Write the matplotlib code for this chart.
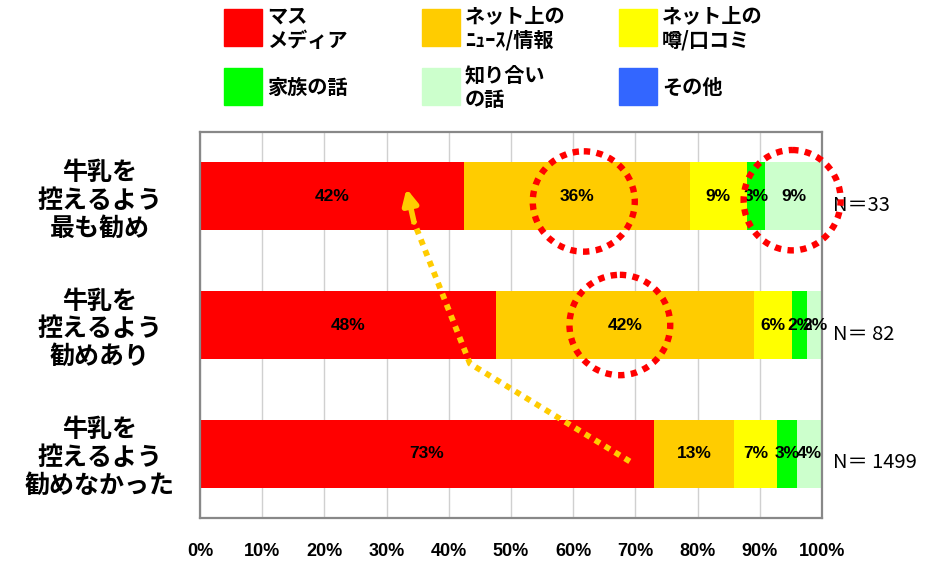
import matplotlib
matplotlib.use("Agg")
import matplotlib.pyplot as plt
from matplotlib.patches import Ellipse, Rectangle
import numpy as np

# data (percent of respondents)
groups = ["牛乳を\n控えるよう\n最も勧め", "牛乳を\n控えるよう\n勧めあり", "牛乳を\n控えるよう\n勧めなかった"]
n_labels = ["N＝33", "N＝ 82", "N＝ 1499"]
series = ["マス\nメディア", "ネット上の\nﾆｭｰｽ/情報", "ネット上の\n噂/口コミ", "家族の話", "知り合い\nの話", "その他"]
colors = ["#FF0000", "#FFCC00", "#FFFF00", "#00FF00", "#CCFFCC", "#3366FF"]
mass_media = [42.4, 47.6, 73.0]
net_news = [36.4, 41.5, 12.9]
net_rumor = [9.1, 6.1, 6.9]
family = [3.0, 2.4, 3.2]
friends = [9.1, 2.4, 4.0]
other = [0.0, 0.0, 0.0]
values = [mass_media, net_news, net_rumor, family, friends, other]

jp = ["Noto Sans CJK JP", "DejaVu Sans"]
num = ["Liberation Sans", "DejaVu Sans"]

fig = plt.figure(figsize=(9.35, 5.64), dpi=100)
ax = fig.add_axes([200 / 935, 46 / 564, 622 / 935, 386 / 564])

y = np.arange(len(groups))
left = np.zeros(len(groups))
for vals, col in zip(values, colors):
    vals = np.array(vals)
    ax.barh(y, vals, left=left, height=0.53, color=col, zorder=2)
    for yi, l, v in zip(y, left, vals):
        if v > 0:
            ax.text(l + v / 2, yi, f"{v:.0f}%", ha="center", va="center",
                    fontsize=12.5, fontweight="bold", family=num, zorder=3)
    left += vals

ax.set_xlim(0, 100)
ax.set_ylim(2.5, -0.5)
ax.set_xticks(np.arange(0, 101, 10))
ax.set_xticklabels([f"{t}%" for t in range(0, 101, 10)], fontsize=13,
                   fontweight="bold", family=num)
ax.set_yticks(y)
ax.set_yticklabels(groups, fontsize=18, fontweight="bold", family=jp, linespacing=1.2)
for lab in ax.get_yticklabels():
    lab.set_ha("center")
ax.tick_params(axis="y", length=0, pad=72)
ax.tick_params(axis="x", length=0, pad=18)
ax.grid(axis="x", color="#d0d0d0", lw=1, zorder=0)
for s in ax.spines.values():
    s.set_color("#888888")
    s.set_linewidth(1.6)

for yi, t in zip(y, n_labels):
    ax.text(101.8, yi + 0.07, t, ha="left", va="center", fontsize=14.5, family=jp)

# red dotted circles
for cx, cy, w in [(61.7, 0.04, 16.4), (67.5, 1.0, 16.2), (95.2, 0.03, 15.6)]:
    ax.add_patch(Ellipse((cx, cy), w, 0.78, fill=False, ec="#FF0000", lw=4.6,
                         ls=(0, (1, 1)), zorder=4, clip_on=False))

# orange dotted arrow
ax.plot([69.1, 43.4, 34.4], [2.06, 1.3, 0.2], color="#FFCC00", lw=4.2,
        ls=(0, (1, 1)), dash_capstyle="butt", zorder=4)
ax.annotate("", xy=(33.2, -0.06), xytext=(34.4, 0.2),
            arrowprops=dict(arrowstyle="-|>,head_length=0.9,head_width=0.45",
                            color="#FFCC00", lw=4, shrinkA=0, shrinkB=0), zorder=4)

# legend drawn in pixel coordinates on an overlay
lg = fig.add_axes([0, 0, 1, 1], facecolor="none")
lg.set_xlim(0, 935)
lg.set_ylim(564, 0)
lg.axis("off")
sq_x = [224, 422, 619]
sq_y = [9, 68]
for i, (lab, col) in enumerate(zip(series, colors)):
    r, c = divmod(i, 3)
    lg.add_patch(Rectangle((sq_x[c], sq_y[r]), 38, 37, color=col))
    lg.text(sq_x[c] + 43, sq_y[r] + 19, lab, ha="left", va="center", fontsize=14.5,
            fontweight="bold", family=jp, linespacing=1.2)

fig.savefig("out.png", dpi=100)
